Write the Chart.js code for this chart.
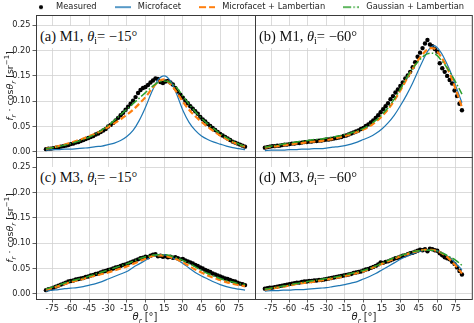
<!DOCTYPE html>
<html><head><meta charset="utf-8">
<script src="https://cdn.jsdelivr.net/npm/chart.js@4"></script>
<style>
html,body{margin:0;padding:0;background:#fff;}
body{width:474px;height:323px;overflow:hidden;position:relative;font-family:'DejaVu Sans',sans-serif;}
canvas{position:absolute;}
.lbl{position:absolute;font-family:'Liberation Serif',serif;font-size:14.5px;line-height:16px;background:#fff;padding:2px 3px;white-space:nowrap;color:#111;}
.lbl .s{font-size:10px;position:relative;top:3px;font-style:normal;}
.yt{position:absolute;width:160px;height:12px;line-height:12px;text-align:center;font-size:9.5px;color:#222;transform:rotate(-90deg);white-space:nowrap;}
.xt{position:absolute;width:100px;height:12px;line-height:12px;text-align:center;font-size:10px;color:#222;white-space:nowrap;}
.sub{font-size:7px;position:relative;top:2.5px;}
.sup{font-size:7px;position:relative;top:-4px;}
</style>
</head><body>
<canvas id="pa" width="474" height="323" style="left:0;top:0"></canvas>
<canvas id="pb" width="474" height="323" style="left:0;top:0"></canvas>
<canvas id="pc" width="474" height="323" style="left:0;top:0"></canvas>
<canvas id="pd" width="474" height="323" style="left:0;top:0"></canvas>
<canvas id="leg" width="474" height="60" style="left:10px;top:0px"></canvas>

<div class="lbl" style="left:37px;top:26px">(a) M1, <i>θ</i><span class="s">i</span>= −15°</div>
<div class="lbl" style="left:256px;top:26px">(b) M1, <i>θ</i><span class="s">i</span>= −60°</div>
<div class="lbl" style="left:37px;top:167px">(c) M3, <i>θ</i><span class="s">i</span>= −15°</div>
<div class="lbl" style="left:256px;top:167px">(d) M3, <i>θ</i><span class="s">i</span>= −60°</div>

<div class="yt" style="left:-70px;top:80px"><i>f</i><span class="sub"><i>r</i></span> · cos<i>θ</i><span class="sub"><i>r</i></span> [sr<span class="sup">−1</span>]</div>
<div class="yt" style="left:-70px;top:222px"><i>f</i><span class="sub"><i>r</i></span> · cos<i>θ</i><span class="sub"><i>r</i></span> [sr<span class="sup">−1</span>]</div>
<div class="xt" style="left:95px;top:311px"><i>θ</i><span class="sub"><i>r</i></span> [°]</div>
<div class="xt" style="left:314px;top:311px"><i>θ</i><span class="sub"><i>r</i></span> [°]</div>

<script>
// ---------------- data ----------------
const seriesNames = ['Measured', 'Microfacet', 'Microfacet + Lambertian', 'Gaussian + Lambertian'];
const xTickValues = [-75, -60, -45, -30, -15, 0, 15, 30, 45, 60, 75];
const yTickValues = [0, 0.05, 0.10, 0.15, 0.20, 0.25];

const angles5 = [-80,-75,-70,-65,-60,-55,-50,-45,-40,-35,-30,-25,-20,-15,-10,-5,0,5,10,15,20,25,30,35,40,45,50,55,60,65,70,75,80];
const anglesB = [-80,-75,-70,-65,-60,-55,-50,-45,-40,-35,-30,-25,-20,-15,-10,-5,0,5,10,15,20,25,30,35,40,45,50,52.5,55,57.5,60,62.5,65,70,75,80];
const anglesMeas = [-80,-78,-76,-74,-72,-70,-68,-66,-64,-62,-60,-58,-56,-54,-52,-50,-48,-46,-44,-42,-40,-38,-36,-34,-32,-30,-28,-26,-24,-22,-20,-18,-16,-14,-12,-10,-8,-6,-4,-2,0,2,4,6,8,10,12,14,16,18,20,22,24,26,28,30,32,34,36,38,40,42,44,46,48,50,52,54,56,58,60,62,64,66,68,70,72,74,76,78,80];

// (a) M1, theta_i = -15
const aMicro = [.003,.004,.004,.005,.005,.006,.007,.008,.010,.011,.014,.017,.022,.030,.042,.062,.088,.118,.142,.150,.140,.114,.082,.058,.042,.031,.024,.019,.015,.011,.008,.006,.004];
const aMicroLamb = [.006,.008,.011,.014,.018,.022,.026,.031,.036,.042,.049,.056,.064,.073,.083,.095,.108,.124,.138,.143,.134,.118,.099,.083,.070,.059,.049,.040,.032,.025,.019,.014,.010];
const aGaussLamb = [.006,.008,.010,.013,.016,.020,.024,.029,.035,.043,.052,.062,.073,.084,.095,.106,.117,.128,.137,.140,.137,.127,.110,.094,.079,.066,.055,.045,.036,.028,.021,.015,.010];
const aMeasured = [.005,.006,.006,.007,.008,.009,.010,.011,.012,.013,.015,.016,.018,.019,.021,.023,.025,.027,.029,.031,.034,.036,.039,.042,.045,.050,.053,.057,.062,.067,.072,.077,.083,.089,.095,.101,.108,.116,.122,.126,.128,.132,.137,.141,.145,.144,.138,.136,.139,.140,.137,.133,.126,.119,.113,.107,.101,.096,.090,.085,.080,.075,.069,.064,.060,.055,.051,.047,.043,.039,.035,.032,.029,.026,.023,.020,.018,.016,.014,.012,.010];

// (b) M1, theta_i = -60
const bMicro = [.002,.003,.003,.003,.004,.004,.005,.005,.006,.006,.007,.009,.010,.012,.015,.019,.024,.029,.036,.045,.057,.072,.091,.112,.136,.163,.189,.200,.207,.210,.206,.198,.188,.162,.130,.097];
const bMicroLamb = [.008,.010,.011,.013,.014,.016,.017,.019,.020,.021,.023,.025,.028,.031,.035,.039,.044,.050,.059,.070,.084,.101,.121,.143,.164,.183,.198,.203,.205,.204,.198,.190,.180,.155,.123,.088];
const bGaussLamb = [.009,.011,.013,.015,.017,.019,.021,.022,.024,.025,.027,.029,.031,.034,.037,.041,.046,.053,.062,.073,.087,.104,.124,.146,.165,.180,.191,.194,.195,.194,.190,.183,.176,.158,.137,.114];
const bMeasured = [.008,.009,.010,.011,.011,.012,.012,.013,.014,.014,.015,.016,.016,.017,.017,.018,.019,.019,.020,.020,.021,.021,.022,.022,.023,.024,.024,.025,.026,.027,.028,.029,.031,.032,.034,.036,.038,.040,.042,.045,.047,.051,.054,.058,.062,.067,.072,.078,.084,.090,.096,.104,.110,.117,.123,.130,.137,.145,.151,.158,.167,.177,.188,.196,.205,.214,.221,.212,.209,.203,.198,.175,.165,.158,.150,.142,.135,.121,.110,.095,.082];

// (c) M3, theta_i = -15
const cMicro = [.005,.007,.008,.010,.011,.012,.014,.017,.020,.024,.029,.034,.039,.044,.052,.059,.066,.073,.077,.077,.073,.067,.060,.051,.042,.035,.029,.023,.018,.014,.011,.009,.007];
const cMicroLamb = [.008,.011,.015,.019,.023,.026,.029,.033,.036,.039,.042,.046,.050,.054,.059,.064,.069,.074,.076,.075,.072,.068,.062,.055,.048,.042,.036,.031,.027,.023,.020,.017,.015];
const cGaussLamb = [.009,.013,.017,.021,.025,.028,.031,.035,.039,.043,.047,.051,.055,.059,.064,.069,.073,.076,.077,.077,.075,.071,.066,.060,.053,.046,.040,.035,.030,.026,.023,.020,.018];
const cMeasured = [.007,.009,.010,.012,.014,.016,.018,.020,.022,.024,.025,.026,.028,.029,.030,.031,.033,.034,.036,.037,.039,.040,.042,.044,.045,.047,.048,.050,.052,.053,.055,.057,.058,.060,.062,.064,.066,.068,.070,.071,.073,.072,.075,.077,.078,.074,.075,.073,.074,.072,.073,.071,.072,.070,.068,.069,.066,.064,.062,.060,.057,.055,.052,.050,.047,.045,.043,.040,.038,.036,.034,.032,.030,.029,.027,.025,.024,.022,.020,.019,.017];

// (d) M3, theta_i = -60
const dMicro = [.005,.006,.006,.007,.007,.008,.008,.009,.010,.011,.012,.014,.016,.018,.021,.024,.029,.034,.040,.047,.054,.061,.068,.074,.079,.083,.086,.087,.085,.080,.071,.060,.047];
const dMicroLamb = [.008,.010,.012,.014,.016,.019,.021,.022,.024,.026,.028,.030,.032,.035,.038,.041,.044,.049,.054,.059,.064,.069,.074,.078,.082,.085,.087,.087,.084,.078,.068,.055,.040];
const dGaussLamb = [.009,.011,.013,.015,.017,.020,.022,.024,.026,.028,.030,.032,.034,.037,.040,.043,.046,.050,.055,.060,.066,.071,.075,.079,.083,.085,.086,.086,.084,.079,.073,.066,.056];
const dMeasured = [.010,.011,.012,.012,.013,.014,.015,.016,.017,.018,.019,.020,.021,.022,.022,.023,.024,.024,.025,.025,.026,.026,.027,.027,.028,.029,.030,.031,.032,.033,.034,.035,.036,.037,.038,.039,.041,.042,.043,.044,.046,.048,.049,.051,.053,.055,.058,.062,.061,.063,.064,.066,.068,.070,.071,.073,.075,.076,.078,.080,.081,.083,.085,.087,.086,.088,.084,.089,.088,.086,.085,.080,.076,.072,.070,.068,.063,.059,.052,.045,.038];

// ---------------- styling / layout ----------------
const W = 474, H = 323;
const X_RANGE = [-88, 88], Y_RANGE = [-0.0105, 0.2705];
const COL = {meas:'#000000', micro:'#1f77b4', mfl:'#ff7f0e', gl:'#2ca02c'};
const GRID = '#d2d2d2', SPINE = '#3a3a3a', TXT = '#222222';
const TICK_FONT = {family:'DejaVu Sans', size:8.2};
const XH = 24;

const pts = (xs, ys) => xs.map((x, i) => ({x: x, y: ys[i]}));

function makeDatasets(mAng, meas, ang, micro, mfl, gl) {
  return [
    {label: seriesNames[0], data: pts(mAng, meas), showLine: false, pointRadius: 2.2, pointHoverRadius: 2.2,
     pointBackgroundColor: COL.meas, pointBorderWidth: 0, order: 4},
    {label: seriesNames[1], data: pts(ang, micro), showLine: true, pointRadius: 0, borderColor: COL.micro,
     borderWidth: 1.2, cubicInterpolationMode: 'monotone', order: 3},
    {label: seriesNames[2], data: pts(ang, mfl), showLine: true, pointRadius: 0, borderColor: COL.mfl,
     borderWidth: 2.2, borderDash: [6, 3], cubicInterpolationMode: 'monotone', order: 2},
    {label: seriesNames[3], data: pts(ang, gl), showLine: true, pointRadius: 0, borderColor: COL.gl,
     borderWidth: 1.5, borderDash: [8, 2.2, 1.5, 2.2], cubicInterpolationMode: 'monotone', order: 1}
  ];
}

const framePlugin = {
  id: 'frame',
  afterDatasetsDraw(chart) {
    const a = chart.chartArea, ctx = chart.ctx;
    ctx.save();
    ctx.strokeStyle = SPINE; ctx.lineWidth = 1;
    ctx.strokeRect(a.left + 0.5, a.top + 0.5, a.right - a.left, a.bottom - a.top);
    ctx.restore();
  }
};

function makePanel(id, area, showX, showY, datasets) {
  const yw = showY ? area.l : 4;
  return new Chart(document.getElementById(id), {
    type: 'scatter',
    data: {datasets: datasets},
    options: {
      responsive: false, animation: false, devicePixelRatio: 1,
      layout: {padding: {left: area.l - yw, top: area.t, right: W - area.r, bottom: H - area.b - XH}},
      plugins: {legend: {display: false}, tooltip: {enabled: false}},
      events: [],
      scales: {
        x: {
          type: 'linear', min: X_RANGE[0], max: X_RANGE[1],
          afterFit: s => { s.height = XH; },
          afterBuildTicks: s => { s.ticks = xTickValues.map(v => ({value: v})); },
          ticks: {display: showX, font: TICK_FONT, color: TXT, padding: 1, maxRotation: 0, autoSkip: false,
                  callback: v => String(v)},
          grid: {color: GRID, lineWidth: 0.8, drawTicks: showX, tickLength: 3.5, tickColor: SPINE, tickWidth: 0.8},
          border: {display: false}
        },
        y: {
          type: 'linear', min: Y_RANGE[0], max: Y_RANGE[1],
          afterFit: s => { s.width = yw; },
          afterBuildTicks: s => { s.ticks = yTickValues.map(v => ({value: v})); },
          ticks: {display: showY, font: TICK_FONT, color: TXT, padding: 2, autoSkip: false,
                  callback: v => Number(v).toFixed(2)},
          grid: {color: GRID, lineWidth: 0.8, drawTicks: showY, tickLength: 3.5, tickColor: SPINE, tickWidth: 0.8},
          border: {display: false}
        }
      }
    },
    plugins: [framePlugin]
  });
}

makePanel('pa', {l:36, r:255, t:15, b:157}, false, true,
  makeDatasets(anglesMeas, aMeasured, angles5, aMicro, aMicroLamb, aGaussLamb));
makePanel('pb', {l:255, r:474, t:15, b:157}, false, false,
  makeDatasets(anglesMeas, bMeasured, anglesB, bMicro, bMicroLamb, bGaussLamb));
makePanel('pc', {l:36, r:255, t:157, b:299}, true, true,
  makeDatasets(anglesMeas, cMeasured, angles5, cMicro, cMicroLamb, cGaussLamb));
makePanel('pd', {l:255, r:474, t:157, b:299}, true, false,
  makeDatasets(anglesMeas, dMeasured, angles5, dMicro, dMicroLamb, dGaussLamb));

// ---------------- legend ----------------
function swatch(w, h, draw) {
  const c = document.createElement('canvas'); c.width = w; c.height = h;
  draw(c.getContext('2d')); return c;
}
const lineSwatch = (color, lw, dash) => swatch(16, 6, g => {
  g.strokeStyle = color; g.lineWidth = lw; g.setLineDash(dash);
  g.beginPath(); g.moveTo(0, 3); g.lineTo(16, 3); g.stroke();
});
const dotSwatch = swatch(6, 6, g => { g.fillStyle = COL.meas; g.beginPath(); g.arc(3, 3, 2.1, 0, Math.PI * 2); g.fill(); });

new Chart(document.getElementById('leg'), {
  type: 'scatter',
  data: {datasets: [
    {label: seriesNames[0], data: [], pointStyle: dotSwatch, backgroundColor: COL.meas, borderColor: COL.meas},
    {label: seriesNames[1], data: [], pointStyle: lineSwatch(COL.micro, 1.5, []), borderColor: COL.micro},
    {label: seriesNames[2], data: [], pointStyle: lineSwatch(COL.mfl, 2, [7, 3]), borderColor: COL.mfl},
    {label: seriesNames[3], data: [], pointStyle: lineSwatch(COL.gl, 1.5, [8, 2.2, 1.5, 2.2]), borderColor: COL.gl}
  ]},
  options: {
    responsive: false, animation: false, devicePixelRatio: 1, events: [],
    layout: {padding: {top: -12}},
    scales: {x: {display: false}, y: {display: false}},
    plugins: {
      tooltip: {enabled: false},
      legend: {display: true, position: 'top', align: 'center',
        labels: {usePointStyle: true, pointStyleWidth: 22, padding: 15, color: TXT,
                 font: {family: 'DejaVu Sans', size: 8.3}}}
    }
  }
});
</script>
</body></html>
